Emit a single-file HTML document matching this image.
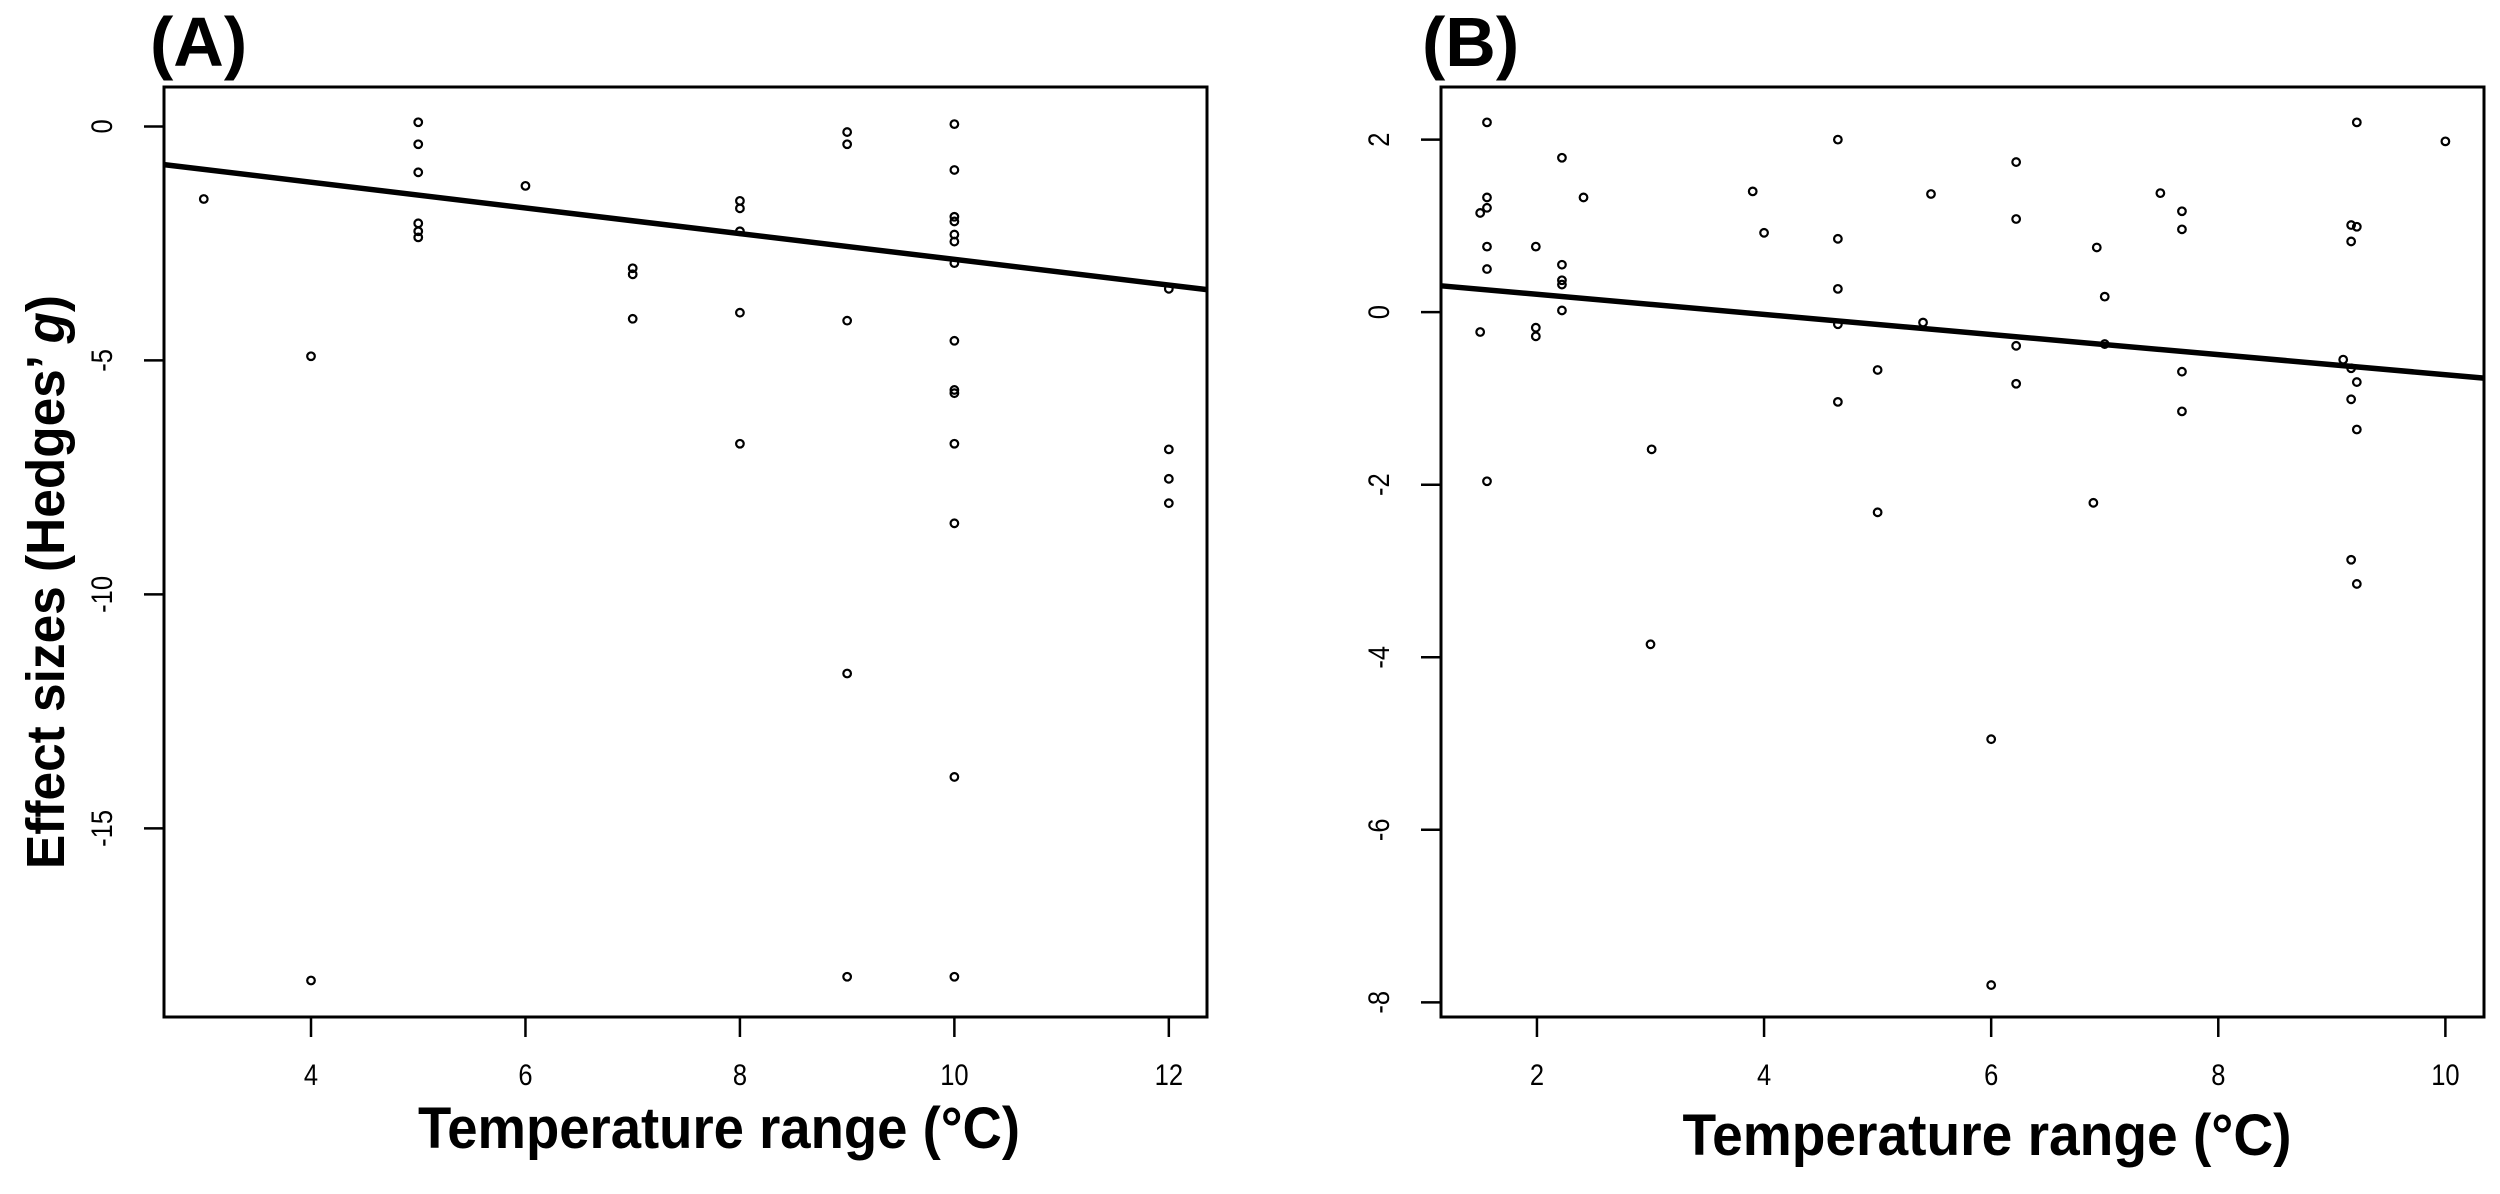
<!DOCTYPE html>
<html><head><meta charset="utf-8"><style>
html,body{margin:0;padding:0;background:#fff;}
svg{display:block;}
text{font-family:"Liberation Sans",Arial,sans-serif;fill:#000;}
</style></head>
<body>
<svg id="chart" width="2500" height="1194" viewBox="0 0 2500 1194" xmlns="http://www.w3.org/2000/svg">
<rect x="0" y="0" width="2500" height="1194" fill="#fff"/>
<g id="panelA"></g>
<g id="panelB"></g>
<text x="150" y="66" font-size="70" font-weight="bold">(A)</text>
<text x="1422" y="66" font-size="70" font-weight="bold">(B)</text>
<text x="719" y="1148" font-size="58" font-weight="bold" text-anchor="middle" textLength="602" lengthAdjust="spacingAndGlyphs">Temperature range (°C)</text>
<text x="1987" y="1155" font-size="58" font-weight="bold" text-anchor="middle" textLength="609" lengthAdjust="spacingAndGlyphs">Temperature range (°C)</text>
<text transform="translate(64,582) rotate(-90)" font-size="54" font-weight="bold" text-anchor="middle" textLength="574" lengthAdjust="spacingAndGlyphs">Effect sizes (Hedges’ <tspan font-style="italic">g</tspan>)</text>
</svg>
<script>
// Panel A data
const aX = [3,4,4,5,5,5,5,5,5,6,7,7,7,8,8,8,8,8,9,9,9,9,9,10,10,10,10,10,10,10,10,10,10,10,10,10,10,12,12,12,12];
const aY = [-1.55,-4.91,-18.25,0.09,-0.38,-0.98,-2.07,-2.24,-2.37,-1.27,-3.03,-3.16,-4.11,-1.59,-1.75,-2.24,-3.98,-6.78,-0.12,-0.38,-4.15,-11.69,-18.17,0.05,-0.93,-1.93,-2.03,-2.31,-2.46,-2.92,-4.58,-5.63,-5.70,-6.78,-8.48,-13.9,-18.17,-3.47,-6.90,-7.53,-8.05];
const aXTicks = [4,6,8,10,12];
const aYTicks = [0,-5,-10,-15];
const aFit = [-0.093,-0.2747]; // intercept, slope
// Panel B data
const bX = [1.56,2.22,1.56,1.56,1.50,2.41,3.90,4.00,4.65,4.65,4.65,4.65,4.65,5.47,5.40,5.00,5.00,1.56,1.56,1.99,2.22,2.22,2.22,2.22,1.50,1.99,1.99,3.01,1.56,6.22,6.22,6.22,6.22,9.22,10.0,7.49,7.68,7.68,6.93,7.00,7.00,7.68,7.68,6.90,9.17,9.22,9.17,9.10,9.17,9.22,9.17,9.22,9.17,9.22,3.0,6.0,6.0];
const bY = [2.20,1.79,1.33,1.21,1.15,1.33,1.40,0.92,2.00,0.85,0.27,-0.14,-1.04,1.37,-0.12,-0.67,-2.32,0.76,0.50,0.76,0.55,0.37,0.32,0.02,-0.23,-0.18,-0.28,-1.59,-1.96,1.74,1.08,-0.39,-0.83,2.20,1.98,1.38,1.17,0.96,0.75,0.18,-0.37,-0.69,-1.15,-2.21,1.01,0.99,0.82,-0.55,-0.65,-0.81,-1.01,-1.36,-2.87,-3.15,-3.85,-4.95,-7.80];
const bXTicks = [2,4,6,8,10];
const bYTicks = [2,0,-2,-4,-6,-8];
const bFit = [0.44,-0.1165];

const NS = "http://www.w3.org/2000/svg";
function mk(tag, attrs, parent){const e=document.createElementNS(NS,tag);for(const k in attrs)e.setAttribute(k,attrs[k]);parent.appendChild(e);return e;}

function drawPanel(g, cfg, xs, ys, xt, yt, fit, prefix){
  const sx = v => cfg.x0 + (v - cfg.xmin)/(cfg.xmax - cfg.xmin)*(cfg.x1 - cfg.x0);
  const sy = v => cfg.y0 + (cfg.ymax - v)/(cfg.ymax - cfg.ymin)*(cfg.y1 - cfg.y0);
  for(let i=0;i<xs.length;i++){
    const c = mk('circle',{cx:sx(xs[i]),cy:sy(ys[i]),r:3.8,fill:'none',stroke:'#000','stroke-width':2.2},g);
    
    
  }
  const l = mk('line',{x1:sx(cfg.xmin),y1:sy(fit[0]+fit[1]*cfg.xmin),x2:sx(cfg.xmax),y2:sy(fit[0]+fit[1]*cfg.xmax),stroke:'#000','stroke-width':5.5},g);
  
  
  const b = mk('rect',{x:cfg.x0,y:cfg.y0,width:cfg.x1-cfg.x0,height:cfg.y1-cfg.y0,fill:'none',stroke:'#000','stroke-width':3},g);
  
  
  xt.forEach(v=>{
    const t = mk('line',{x1:sx(v),y1:cfg.y1,x2:sx(v),y2:cfg.y1+20,stroke:'#000','stroke-width':2.5},g);
    
    
    const tx = mk('text',{transform:'translate('+sx(v)+',1085) scale(0.85,1)','font-size':30,'text-anchor':'middle'},g);
    tx.textContent = v;
    
    
  });
  yt.forEach(v=>{
    const t = mk('line',{x1:cfg.x0-20,y1:sy(v),x2:cfg.x0,y2:sy(v),stroke:'#000','stroke-width':2.5},g);
    
    
    const tx = mk('text',{transform:'translate('+(cfg.x0-52)+','+sy(v)+') rotate(-90) scale(0.85,1)','font-size':30,'text-anchor':'middle'},g);
    tx.textContent = v;
    
    
  });
}

drawPanel(document.getElementById('panelA'),
  {x0:164,x1:1207,y0:87,y1:1017,xmin:2.629,xmax:12.356,ymin:-19.03,ymax:0.843},
  aX,aY,aXTicks,aYTicks,aFit,'panel-a');
drawPanel(document.getElementById('panelB'),
  {x0:1441,x1:2484,y0:87,y1:1017,xmin:1.155,xmax:10.34,ymin:-8.17,ymax:2.61},
  bX,bY,bXTicks,bYTicks,bFit,'panel-b');
</script>
</body></html>
